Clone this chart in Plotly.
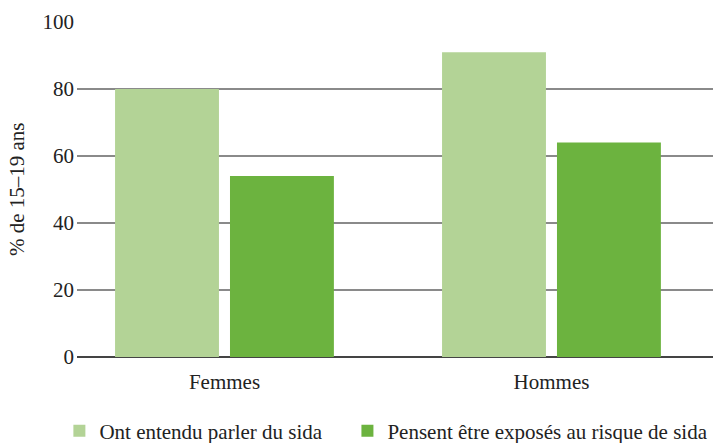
import plotly.graph_objects as go

categories = ["Femmes", "Hommes"]
entendu = [80, 91]
exposes = [54, 64]
series_names = ["Ont entendu parler du sida", "Pensent être exposés au risque de sida"]
y_ticks = [0, 20, 40, 60, 80, 100]

FONT = "Liberation Serif, Times New Roman, serif"
FS = 21

fig = go.Figure()
fig.add_trace(go.Bar(x=categories, y=entendu, name=series_names[0], legend="legend",
                     marker=dict(color="#b3d396", line=dict(width=0))))
fig.add_trace(go.Bar(x=categories, y=exposes, name=series_names[1], legend="legend2",
                     marker=dict(color="#6cb33f", line=dict(width=0))))

leg_common = dict(orientation="h", xanchor="left", yanchor="middle", y=-0.221,
                  font=dict(size=FS), itemwidth=30, bgcolor="rgba(0,0,0,0)")

fig.update_layout(
    width=713, height=443,
    margin=dict(l=77, r=0, t=22, b=86, autoexpand=False),
    paper_bgcolor="white", plot_bgcolor="white",
    font=dict(family=FONT, size=FS, color="#222"),
    barmode="group", bargap=0.297, bargroupgap=0.096,
    showlegend=True,
    legend=dict(x=-0.0277, **leg_common),
    legend2=dict(x=0.4252, **leg_common),
    annotations=[dict(text="% de 15–19 ans", xref="paper", yref="paper",
                      x=-0.095, y=0.5, xanchor="center", yanchor="middle",
                      textangle=-90, showarrow=False, font=dict(size=FS))],
)
fig.update_xaxes(range=[-0.451, 1.494], showgrid=False, showline=False, ticks="",
                 tickfont=dict(size=FS), ticklabelstandoff=10)
fig.update_yaxes(range=[0, 100], tickvals=y_ticks, showgrid=True, gridcolor="#8a8a8a",
                 gridwidth=2, zeroline=True, zerolinecolor="#444", zerolinewidth=2,
                 showline=False, ticks="", tickfont=dict(size=FS), ticklabelstandoff=2)

fig.write_html("out.html", config={"displayModeBar": False},
               post_script="document.body.style.margin='0';")
